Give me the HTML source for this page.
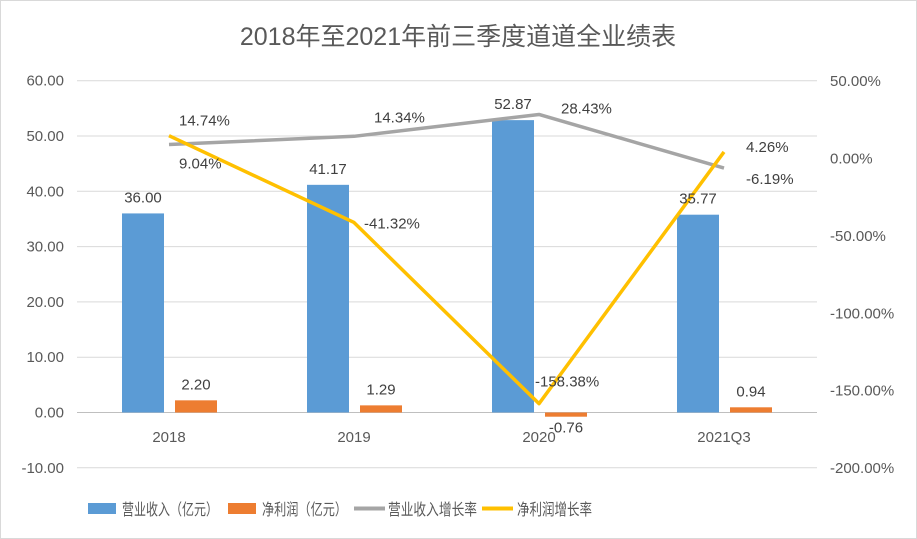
<!DOCTYPE html>
<html><head><meta charset="utf-8"><style>
body{margin:0;background:#fff}
svg{display:block;font-family:"Liberation Sans","Noto Sans CJK SC",sans-serif}
</style></head><body>
<svg id="c" width="917" height="539">
<rect x="0.5" y="0.5" width="916" height="538" fill="#fff" stroke="#d9d9d9"/>
<text x="458" y="45" text-anchor="middle" font-size="25" fill="#595959">2018年至2021年前三季度道道全业绩表</text>
<g id="grid"></g><g id="bars"></g><g id="lines"></g><g id="labels"></g>
<g font-size="16" fill="#595959">
<rect x="88" y="503" width="28" height="11" fill="#5b9bd5"/>
<text x="122" y="515" textLength="96" lengthAdjust="spacingAndGlyphs">营业收入（亿元）</text>
<rect x="228" y="503" width="28" height="11" fill="#ed7d31"/>
<text x="262" y="515" textLength="85" lengthAdjust="spacingAndGlyphs">净利润（亿元）</text>
<line x1="354" y1="508.5" x2="385" y2="508.5" stroke="#a5a5a5" stroke-width="4"/>
<text x="388" y="515" textLength="89" lengthAdjust="spacingAndGlyphs">营业收入增长率</text>
<line x1="482" y1="508.5" x2="513" y2="508.5" stroke="#ffc000" stroke-width="4"/>
<text x="517" y="515" textLength="75" lengthAdjust="spacingAndGlyphs">净利润增长率</text>
</g>
</svg>
<script>
const categories=["2018","2019","2020","2021Q3"];
const revenue=[36.00,41.17,52.87,35.77];
const profit=[2.20,1.29,-0.76,0.94];
const revenueGrowth=[9.04,14.34,28.43,-6.19];
const profitGrowth=[14.74,-41.32,-158.38,4.26];
const leftTicks=[60,50,40,30,20,10,0,-10];
const rightTicks=[50,0,-50,-100,-150,-200];
const NS="http://www.w3.org/2000/svg";
const yL=v=>412.5-v*5.53;
const yR=v=>158.5-v*1.548;
const xC=i=>169+i*185;
function mk(p,t,a){const e=document.createElementNS(NS,t);for(const k in a)e.setAttribute(k,a[k]);document.getElementById(p).appendChild(e);return e;}
leftTicks.forEach(v=>{
 const l=mk('grid','line',{x1:77,x2:817,y1:yL(v),y2:yL(v),stroke:v===0?'#bfbfbf':'#d9d9d9'});
 
 
 const t=mk('grid','text',{x:64,y:yL(v)+5,'text-anchor':'end','font-size':15,fill:'#595959'});
 t.textContent=v.toFixed(2);
 
 
});
rightTicks.forEach(v=>{
 const t=mk('grid','text',{x:830,y:yR(v)+5,'font-size':15,fill:'#595959'});
 t.textContent=v.toFixed(2)+'%';
 
 
});
categories.forEach((c,i)=>{
 const t=mk('grid','text',{x:xC(i),y:442,'text-anchor':'middle','font-size':15,fill:'#595959'});
 t.textContent=c;
 
 
 const y0=yL(0);
 const b=mk('bars','rect',{x:xC(i)-47,width:42,y:Math.min(yL(revenue[i]),y0),height:Math.abs(yL(revenue[i])-y0),fill:'#5b9bd5'});
 
 
 const o=mk('bars','rect',{x:xC(i)+6,width:42,y:Math.min(yL(profit[i]),y0),height:Math.abs(yL(profit[i])-y0),fill:'#ed7d31'});
 
 
 const rl=mk('labels','text',{x:xC(i)-26,y:yL(revenue[i])-11,'text-anchor':'middle','font-size':15,fill:'#404040'});
 rl.textContent=revenue[i].toFixed(2);
 
 
 const pl=mk('labels','text',{x:xC(i)+27,y:profit[i]>=0?yL(profit[i])-11:yL(profit[i])+16,'text-anchor':'middle','font-size':15,fill:'#404040'});
 pl.textContent=profit[i].toFixed(2);
 
 
});
const g=mk('lines','polyline',{points:revenueGrowth.map((v,i)=>xC(i)+','+yR(v)).join(' '),fill:'none',stroke:'#a5a5a5','stroke-width':3.5,'stroke-linejoin':'round'});


const y=mk('lines','polyline',{points:profitGrowth.map((v,i)=>xC(i)+','+yR(v)).join(' '),fill:'none',stroke:'#ffc000','stroke-width':3.5,'stroke-linejoin':'round'});


const gOff=[[10,24],[20,-14],[22,-1],[22,16]];
revenueGrowth.forEach((v,i)=>{
 const t=mk('labels','text',{x:xC(i)+gOff[i][0],y:yR(v)+gOff[i][1],'font-size':15,fill:'#404040'});
 t.textContent=v.toFixed(2)+'%';
 
 
});
const pOff=[[10,-10],[10,6],[-4,-17],[22,0]];
profitGrowth.forEach((v,i)=>{
 const t=mk('labels','text',{x:xC(i)+pOff[i][0],y:yR(v)+pOff[i][1],'font-size':15,fill:'#404040'});
 t.textContent=v.toFixed(2)+'%';
 
 
});
</script>
</body></html>
